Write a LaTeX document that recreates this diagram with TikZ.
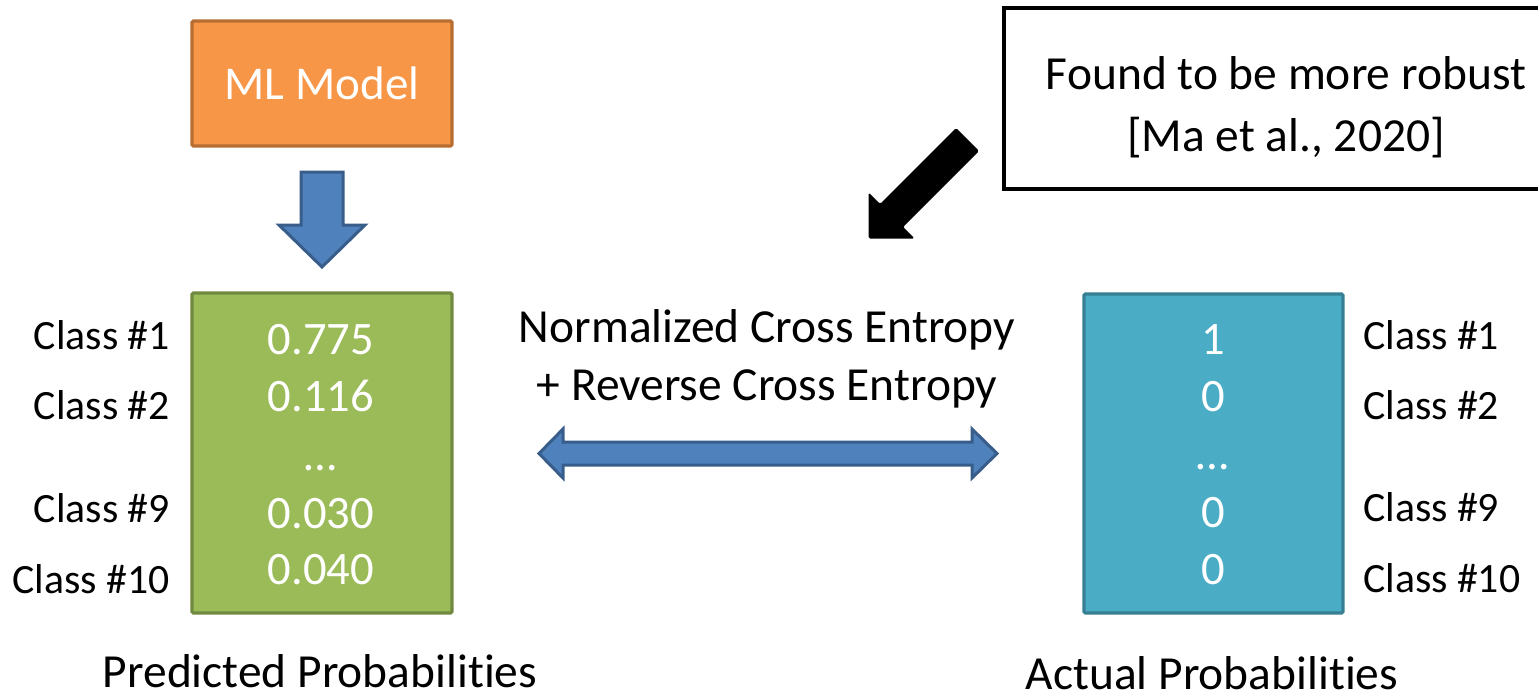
\documentclass[tikz,border=0pt]{standalone}
\usepackage{fontspec}
\setmainfont{Carlito}[Ligatures={NoCommon}]
\definecolor{mlfill}{HTML}{F79646}
\definecolor{mledge}{HTML}{B66D31}
\definecolor{gfill}{HTML}{9BBB59}
\definecolor{gedge}{HTML}{71893F}
\definecolor{tfill}{HTML}{4BACC6}
\definecolor{tedge}{HTML}{367E92}
\definecolor{arrowblue}{HTML}{4F81BD}
\definecolor{arrowedge}{HTML}{385D8A}
\begin{document}
\begin{tikzpicture}[x=0.75pt,y=-0.75pt,
  box/.style={draw, line width=2.4pt, rounded corners=1pt, inner sep=0pt},
  lbl/.style={font=\fontsize{31.3}{36}\selectfont, inner sep=0pt},
  val/.style={font=\fontsize{34.9}{40}\selectfont, text=white, inner sep=0pt, anchor=base},
  big/.style={font=\fontsize{35.6}{40}\selectfont, inner sep=0pt, anchor=base},
  blockarrow/.style={fill=arrowblue, draw=arrowedge, line width=2.25pt, line join=miter}]
\useasboundingbox (0,0) rectangle (1538,696);

% boxes
\node[box, fill=mlfill, draw=mledge, minimum width=195pt, minimum height=93.75pt,
      text=white, font=\fontsize{35.3}{40}\selectfont] (ml) at (322,83.5) {ML Model};
\node[box, fill=gfill, draw=gedge, minimum width=195pt, minimum height=240pt] (gbox) at (322,453) {};
\node[box, fill=tfill, draw=tedge, minimum width=194.25pt, minimum height=239.25pt] (tbox) at (1213.5,453.5) {};
\node[draw=black, line width=2.6pt, minimum width=417pt, minimum height=135.75pt, inner sep=0pt] (note) at (1282,98.5) {};

% note text
\node[big] (note1) at (1286,89) {Found to be more robust};
\node[big] (note2) at (1286,151) {[Ma et al., 2020]};

% down block arrow (ML model -> predicted probabilities)
\draw[blockarrow] (301,172) -- (343,172) -- (343,225) -- (365,225) -- (322,267)
  -- (279,225) -- (301,225) -- cycle;

% double block arrow
\draw[blockarrow] (539,453.5) -- (563,429) -- (563,442) -- (972,442) -- (972,429)
  -- (997,453.5) -- (972,478) -- (972,465) -- (563,465) -- (563,478) -- cycle;

% black arrow from note
\fill[black, rounded corners=1.2pt] (956,128) -- (979,151) -- (903,227) -- (914.5,238.5)
  -- (868.5,238.5) -- (868.5,192.5) -- (880,204) -- cycle;

% loss text
\node[big] (loss1) at (767,342) {Normalized Cross Entropy};
\node[big] (loss2) at (767,400) {+ Reverse Cross Entropy};

% predicted values
\node[val] (p1) at (321,354) {0.775};
\node[val] (p2) at (321,411) {0.116};
\node[val] (p3) at (321,470) {…};
\node[val] (p9) at (321,528) {0.030};
\node[val] (p10) at (321,584) {0.040};

% actual values
\node[val] (a1) at (1213,354) {1};
\node[val] (a2) at (1213,411) {0};
\node[val] (a3) at (1213,469) {…};
\node[val] (a9) at (1213,527) {0};
\node[val] (a10) at (1213,584) {0};

% left class labels
\node[lbl, anchor=base east] (lc1) at (170,349) {Class \#1};
\node[lbl, anchor=base east] (lc2) at (170,419) {Class \#2};
\node[lbl, anchor=base east] (lc9) at (170,522) {Class \#9};
\node[lbl, anchor=base east] (lc10) at (170,593) {Class \#10};

% right class labels
\node[lbl, anchor=base west] (rc1) at (1363,349) {Class \#1};
\node[lbl, anchor=base west] (rc2) at (1363,419) {Class \#2};
\node[lbl, anchor=base west] (rc9) at (1363,521) {Class \#9};
\node[lbl, anchor=base west] (rc10) at (1363,592) {Class \#10};

% captions
\node[big] (pred) at (320,687) {Predicted Probabilities};
\node[big] (act) at (1212,689) {Actual Probabilities};
\end{tikzpicture}
\end{document}
